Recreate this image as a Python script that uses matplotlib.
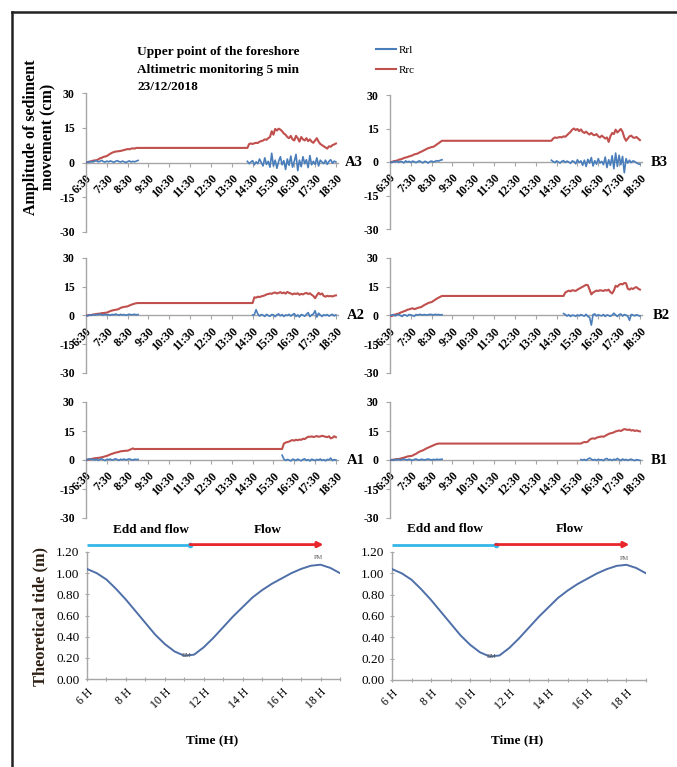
import numpy as np
import matplotlib
matplotlib.use("Agg")
import matplotlib.pyplot as plt
import matplotlib.transforms as mtransforms
from matplotlib.lines import Line2D

plt.rcParams['font.family'] = ['Liberation Serif', 'DejaVu Serif']

# ---------------------------------------------------------------- data
# Altimetric readings every 5 minutes (cm). Morning window 6:30-9:00,
# afternoon window from the listed start time until 18:30.
time_labels = ["6:30", "7:30", "8:30", "9:30", "10:30", "11:30", "12:30",
               "13:30", "14:30", "15:30", "16:30", "17:30", "18:30"]
y_ticks = [-30, -15, 0, 15, 30]

# --- A3
a3_rrc_am = [0.0, 0.2, 0.4, 0.5, 0.8, 0.9,
             1.0, 1.3, 1.8, 2.0, 2.4, 2.6,
             2.8, 3.3, 3.8, 4.2, 4.5, 4.7,
             4.8, 4.9, 5.0, 5.2, 5.4, 5.6,
             5.8, 5.7, 6.0, 6.1, 6.0, 6.3,
             6.3]
a3_rrl_am = [0.0, 0.3, 0.1, 0.5, 0.2, 0.6,
             0.8, 0.3, 0.5, 0.9, 0.4, 0.2,
             0.6, 0.3, 0.7, 0.4, 0.1, 0.5,
             0.8, 0.4, 0.2, 0.6, 0.3, 0.0,
             0.4, 0.7, 0.2, 0.5, 0.3, 0.6,
             0.9]
a3_pm_start = "14:15"
a3_rrc_pm = [6.3, 8.0, 8.2, 8.0, 8.3, 8.5, 8.4, 9.0, 9.2, 9.5, 10.0, 9.8,
             10.5, 11.0, 13.5, 12.0, 14.5, 13.8, 14.6, 14.2, 13.5, 12.5, 12.0, 11.0,
             10.5, 11.5, 10.0, 9.5, 11.5, 10.5, 9.0, 11.0, 10.0, 9.5, 10.5, 9.2,
             10.0, 9.0, 8.5, 9.5, 10.5, 9.0, 8.0, 7.5, 7.0, 6.5, 6.0, 7.0,
             6.8, 7.5, 7.8, 8.2]
a3_rrl_pm = [0.5, -0.5, 0.2, 0.8, -1.0, 0.3, -0.5, 1.5, 0.0, -1.5, 2.0, -0.8,
             0.5, -2.0, 4.0, -1.5, 1.0, -2.5, 0.5, 2.5, -1.0, 0.8, -3.0, 1.5,
             -1.2, 2.8, -2.0, 0.5, 3.5, -3.5, 1.0, -1.8, 2.5, -0.5, 1.2, -2.2,
             3.0, -1.0, 0.5, -0.8, 2.0, -1.5, 1.0, 0.2, -0.5, 1.0, -0.8, 0.5,
             1.2, -0.3, 0.6, 0.2]

# --- A2
a2_rrc_am = [0.0, 0.1, 0.3, 0.2, 0.5, 0.6,
             0.8, 0.9, 1.0, 1.2, 1.3, 1.4,
             1.5, 1.9, 2.3, 2.6, 2.8, 3.0,
             3.1, 3.5, 4.0, 4.3, 4.5, 4.6,
             4.8, 5.2, 5.6, 5.9, 6.2, 6.4,
             6.5]
a2_rrl_am = [0.0, -0.2, 0.3, 0.1, 0.5, 0.2,
             0.6, 0.3, 0.8, 0.4, 0.2, 0.7,
             0.3, 0.5, 0.1, 0.6, 0.3, 0.8,
             0.4, 0.2, 0.6, 0.3, 0.5, 0.1,
             0.4, 0.7, 0.3, 0.5, 0.6, 0.4,
             0.5]
a2_pm_start = "14:30"
a2_rrc_pm = [6.5, 9.5, 9.3, 9.8, 9.6, 10.0, 10.2, 10.5, 11.0, 11.2, 11.5, 11.3,
             11.8, 12.0, 11.5, 11.8, 12.2, 11.6, 12.0, 11.4, 12.3, 11.8, 11.5, 11.0,
             11.5, 11.2, 11.6, 10.8, 11.3, 11.0, 11.5, 11.8, 11.2, 11.6, 10.8, 10.2,
             9.0, 10.5, 11.8, 11.0, 11.5, 10.2, 9.8, 10.3, 10.0, 10.2, 9.9, 10.3,
             10.5]
a2_rrl_pm = [0.2, 0.5, 3.0, 0.8, -0.3, 0.5, 0.2, -0.5, 0.6, 0.0, -0.4, 0.5,
             0.3, -0.6, 0.4, 0.8, -0.2, 0.5, -0.5, 0.3, 0.0, 0.6, -0.3, 0.4,
             1.0, -0.5, 0.3, -0.8, 0.5, 0.2, -0.4, 0.6, 1.5, -0.6, 0.3, 0.8,
             2.5, -0.8, 1.2, 0.3, -0.5, 0.4, 0.0, 0.5, -0.3, 0.2, 0.6, -0.2,
             0.3]

# --- A1
a1_rrc_am = [0.0, 0.2, 0.3, 0.5, 0.7, 0.9,
             1.0, 1.1, 1.2, 1.4, 1.6, 1.9,
             2.1, 2.5, 2.9, 3.2, 3.5, 3.8,
             4.0, 4.2, 4.5, 4.6, 4.7, 4.8,
             4.8, 5.2, 5.6, 6.0, 5.6, 5.7,
             5.7]
a1_rrl_am = [0.0, 0.3, 0.6, 0.2, 0.4, 0.0,
             0.5, -0.2, 0.3, 0.6, 0.1, -0.3,
             0.4, 0.2, 0.5, -0.1, 0.3, 0.6,
             0.2, -0.2, 0.4, 0.1, 0.5, 0.0,
             0.3, 0.6, 0.2, -0.1, 0.4, 0.2,
             0.3]
a1_pm_start = "15:55"
a1_rrc_pm = [5.7, 8.5, 9.0, 9.3, 9.5, 10.0, 10.3, 10.0, 10.5, 10.2, 10.6, 10.4,
             11.0, 10.8, 11.5, 12.0, 12.0, 12.2, 11.9, 12.1, 12.4, 12.0, 12.2, 12.5,
             12.3, 12.0, 11.8, 12.3, 11.2, 11.5, 12.3, 11.8]
a1_rrl_pm = [2.5, 0.5, -0.2, 0.3, 0.0, -0.5, 0.4, 0.2, -0.3, 0.5, 0.0, -0.4,
             0.3, 0.6, -0.2, 0.2, -0.5, 0.4, 0.1, -0.3, 0.3, 0.0, 0.5, -0.2,
             0.2, -0.4, 0.3, 0.1, 1.0, -0.3, 0.2, 0.0]

# --- B3
b3_rrc_am = [0.0, 0.0, 0.3, 0.5, 0.6, 1.0,
             1.2, 1.4, 1.8, 2.0, 2.2, 2.5,
             2.7, 3.0, 3.4, 3.6, 3.8, 4.3,
             4.6, 5.0, 5.4, 5.8, 6.2, 6.4,
             6.7, 6.8, 7.3, 7.9, 8.4, 9.0,
             9.5]
b3_rrl_am = [0.0, -0.3, 0.2, 0.0, 0.4, -0.2,
             0.3, 0.1, -0.4, 0.5, 0.0, 0.3,
             -0.2, 0.4, 0.1, -0.3, 0.2, 0.5,
             0.0, -0.4, 0.3, 0.1, -0.5, 0.2,
             0.4, 0.0, 0.3, 0.6, 0.4, 0.8,
             1.0]
b3_pm_start = "14:15"
b3_rrc_pm = [9.5, 10.5, 11.0, 10.8, 11.0, 11.2, 11.0, 11.5, 11.3, 12.0, 12.8, 13.5,
             14.5, 15.0, 14.3, 14.8, 13.8, 14.6, 13.5, 13.0, 13.6, 12.8, 12.3, 13.0,
             12.2, 12.0, 12.5, 11.5, 11.0, 11.8, 11.2, 10.5, 11.0, 9.0, 11.5, 13.0,
             12.5, 14.5, 13.2, 14.0, 14.8, 13.5, 11.0, 9.5, 10.5, 11.5, 11.8, 11.0,
             10.8, 11.2, 10.5, 9.8]
b3_rrl_pm = [0.8, 0.2, -0.3, 0.5, 0.0, -0.5, 0.3, 0.6, -0.2, 0.4, 0.0, -0.6,
             0.5, 0.2, -0.8, 1.0, -0.3, 0.5, -1.5, 0.8, -2.0, 1.2, -0.5, 2.0,
             -1.8, 0.6, -1.0, 1.5, -0.5, 0.3, -1.2, 2.2, -2.5, 1.0, -1.5, 2.8,
             -3.0, 4.0, -2.0, 3.0, -1.2, 2.5, -4.8, 1.5, -0.5, 0.8, -0.3, 0.5,
             0.2, -0.4, -0.8, -1.0]

# --- B2
b2_rrc_am = [0.0, -0.3, 0.2, 0.5, 0.8, 1.0,
             1.5, 1.8, 2.2, 2.5, 3.0, 3.2,
             3.5, 3.8, 3.3, 3.6, 4.0, 4.2,
             4.4, 5.0, 5.6, 6.0, 6.5, 6.8,
             7.0, 7.6, 8.2, 8.8, 9.3, 9.8,
             10.2]
b2_rrl_am = [0.0, 0.2, 0.5, -0.2, 0.3, 0.6,
             0.0, -0.5, 0.4, 0.2, -0.3, 0.5,
             0.3, 0.0, -0.4, 0.5, 0.2, 0.6,
             0.4, 0.3, 0.5, 0.2, 0.4, 0.6,
             0.5, 0.3, 0.6, 0.4, 0.5, 0.3,
             0.4]
b2_pm_start = "14:50"
b2_rrc_pm = [10.2, 12.0, 12.5, 13.0, 12.6, 13.2, 13.0, 12.8, 13.5, 14.0, 14.5, 15.0,
             15.5, 16.0, 15.8, 13.5, 11.0, 12.0, 12.5, 13.0, 12.8, 13.2, 13.0, 12.8,
             13.3, 13.0, 13.5, 12.2, 11.5, 13.0, 15.5, 15.0, 16.0, 16.5, 16.2, 17.0,
             16.8, 14.0, 13.5, 14.2, 13.8, 14.5, 14.8, 14.0, 13.5]
b2_rrl_pm = [1.0, 0.5, -0.3, 0.4, -0.5, 0.2, 0.0, -0.4, 0.3, -0.2, 0.5, 0.0,
             -0.3, 0.6, -0.5, -1.0, -5.0, 0.5, 0.8, -0.3, 0.4, 0.0, -0.2, 0.5,
             -0.5, 0.3, 0.0, -0.4, 0.2, 1.2, 0.3, -0.5, 0.4, 0.8, -0.3, 0.5,
             0.2, -0.4, -2.5, 0.5, 0.3, -0.2, 0.4, 0.0, -0.3]

# --- B1
b1_rrc_am = [0.0, 0.0, 0.2, 0.3, 0.5, 0.5,
             0.7, 1.0, 1.2, 1.5, 1.8, 2.0,
             2.0, 2.3, 2.8, 3.2, 3.8, 4.3,
             4.7, 5.0, 5.5, 6.0, 6.4, 6.8,
             7.2, 7.6, 8.0, 8.3, 8.5, 8.5,
             8.5]
b1_rrl_am = [0.0, 0.2, -0.2, 0.3, 0.1, 0.4,
             -0.1, 0.3, 0.5, 0.2, 0.0, 0.4,
             0.1, -0.2, 0.3, 0.5, 0.1, -0.1,
             0.4, 0.2, 0.0, 0.3, 0.5, 0.2,
             0.0, 0.3, 0.1, 0.4, 0.2, 0.3,
             0.4]
b1_pm_start = "15:40"
b1_rrc_pm = [8.5, 9.0, 9.3, 9.2, 9.5, 10.5, 11.0, 11.2, 11.0, 11.5, 11.8, 12.0,
             12.2, 12.0, 12.5, 13.0, 13.5, 13.8, 14.0, 14.3, 14.8, 15.0, 15.3, 15.0,
             15.5, 16.0, 15.8, 15.5, 15.8, 15.2, 15.5, 15.0, 15.3, 15.0, 14.8]
b1_rrl_pm = [0.2, 0.0, 0.3, -0.2, 0.5, 1.0, 0.4, 0.0, 0.3, -0.2, 0.4, 0.0,
             0.2, -0.3, 0.5, 0.8, 0.0, 0.3, -0.2, 0.4, 0.1, 0.8, 0.2, -0.3,
             0.5, 0.0, 0.3, -0.2, 0.2, 0.4, 0.0, -0.3, 0.2, 0.0, -0.2]

# Theoretical tide (m), half-hourly from 6 H to 19 H
tide_hours = [6.0, 6.5, 7.0, 7.5, 8.0, 8.5, 9.0, 9.5, 10.0, 10.5, 11.0, 11.5, 12.0,
              12.5, 13.0, 13.5, 14.0, 14.5, 15.0, 15.5, 16.0, 16.5, 17.0, 17.5,
              18.0, 18.5, 19.0]
tide_m = [1.04, 1.00, 0.94, 0.85, 0.75, 0.64, 0.53, 0.42, 0.33, 0.26, 0.22, 0.23,
          0.30, 0.39, 0.49, 0.59, 0.68, 0.77, 0.84, 0.90, 0.95, 1.00, 1.04, 1.07,
          1.08, 1.05, 1.00]
tide_low = (11.1, 0.22, "BM")
tide_high = (17.9, 1.08, "PM")
tide_hour_ticks = [6, 8, 10, 12, 14, 16, 18]
tide_y_ticks = [0.0, 0.2, 0.4, 0.6, 0.8, 1.0, 1.2]
ebb_flow_phase = (6.0, 11.3)
flow_phase = (11.3, 18.15)

# ---------------------------------------------------------------- styling
W, H = 677, 767
RED = "#c0504d"
BLUE = "#4a7ebb"
GREY = "#a6a6a6"

fig = plt.figure(figsize=(W / 100, H / 100), dpi=100)


def axes_px(x0, x1, ytop, ybot):
    return fig.add_axes([x0 / W, 1 - ybot / H, (x1 - x0) / W, (ybot - ytop) / H])


def hm(s):
    h, m = s.split(":")
    return int(h) + int(m) / 60.0


def sediment_panel(box, rrc_am, rrl_am, pm_start, rrc_pm, rrl_pm, name, name_x):
    ax = axes_px(*box)
    # the horizontal axis crosses at zero; position it before styling the ticks
    for s in ("top", "right"):
        ax.spines[s].set_visible(False)
    ax.spines["bottom"].set_position(("data", 0))
    t_am = hm("6:30") + np.arange(len(rrc_am)) * 5 / 60.0
    t_pm = hm(pm_start) + np.arange(len(rrc_pm)) * 5 / 60.0
    ax.plot(np.concatenate([t_am, t_pm]), np.concatenate([rrc_am, rrc_pm]),
            color=RED, lw=1.5, solid_joinstyle="round", zorder=3)
    ax.plot(np.concatenate([t_am, [np.nan], t_pm]),
            np.concatenate([rrl_am, [np.nan], rrl_pm]),
            color=BLUE, lw=1.2, solid_joinstyle="round", zorder=4)
    ax.set_xlim(6.5, 18.6)
    ax.set_ylim(-30, 30)
    ax.set_yticks(y_ticks)
    ax.set_yticklabels([str(v) for v in y_ticks], fontsize=8.5, fontweight="bold")
    ax.set_xticks([hm(s) for s in time_labels])
    ax.set_xticklabels(time_labels, rotation=45, ha="right", va="top",
                       rotation_mode="anchor", fontsize=8.5, fontweight="bold")
    for s in ("left", "bottom"):
        ax.spines[s].set_color(GREY)
        ax.spines[s].set_linewidth(1.0)
    ax.tick_params(axis="both", colors=GREY, length=3, width=0.8, labelcolor="black")
    ax.tick_params(axis="y", pad=5)
    ax.tick_params(axis="x", pad=4)
    ax.set_facecolor("none")
    tr = mtransforms.blended_transform_factory(fig.transFigure, ax.transData)
    ax.text(name_x / W, 0, name, transform=tr, ha="center", va="center",
            fontsize=10.5, fontweight="bold", clip_on=False)
    return ax


sediment_panel((86, 338, 93, 232), a3_rrc_am, a3_rrl_am, a3_pm_start, a3_rrc_pm, a3_rrl_pm, "A3", 354)
sediment_panel((86, 338, 258, 373), a2_rrc_am, a2_rrl_am, a2_pm_start, a2_rrc_pm, a2_rrl_pm, "A2", 356)
sediment_panel((86, 338, 402, 518), a1_rrc_am, a1_rrl_am, a1_pm_start, a1_rrc_pm, a1_rrl_pm, "A1", 356)
sediment_panel((390, 642, 95, 229), b3_rrc_am, b3_rrl_am, b3_pm_start, b3_rrc_pm, b3_rrl_pm, "B3", 659)
sediment_panel((390, 642, 258, 373), b2_rrc_am, b2_rrl_am, b2_pm_start, b2_rrc_pm, b2_rrl_pm, "B2", 661)
sediment_panel((390, 642, 402, 518), b1_rrc_am, b1_rrl_am, b1_pm_start, b1_rrc_pm, b1_rrl_pm, "B1", 659)


def tide_panel(box, ebb_x, flow_x, text_y, time_x):
    ax = axes_px(*box)
    ax.plot(tide_hours, tide_m, color="#4f6fa8", lw=1.4, zorder=3)
    ax.set_xlim(6, 19)
    ax.set_ylim(0, 1.2)
    ax.set_yticks(tide_y_ticks)
    ax.set_yticklabels([f"{v:.2f}" for v in tide_y_ticks], fontsize=9.5)
    ax.set_xticks(tide_hour_ticks)
    ax.set_xticks(np.arange(6, 20, 1), minor=True)
    ax.set_xticklabels([f"{h} H" for h in tide_hour_ticks], rotation=45, ha="right",
                       va="top", rotation_mode="anchor", fontsize=8.5)
    for s in ("top", "right"):
        ax.spines[s].set_visible(False)
    for s in ("left", "bottom"):
        ax.spines[s].set_color(GREY)
        ax.spines[s].set_linewidth(1.0)
    ax.tick_params(axis="both", which="both", colors=GREY, length=3, width=0.8,
                   labelcolor="black", direction="inout")
    ax.tick_params(axis="y", pad=4)
    ax.set_facecolor("none")
    # tide extremes
    ax.text(tide_low[0], tide_low[1], tide_low[2], fontsize=4.5, color="#555555",
            ha="center", va="center", zorder=4)
    ax.text(tide_high[0], tide_high[1] + 0.04, tide_high[2], fontsize=4.5,
            color="#555555", ha="center", va="bottom", zorder=4)
    # tidal phases
    yb = 1.27
    ax.plot(ebb_flow_phase, [yb, yb], color="#35b6e8", lw=2.0, clip_on=False,
            solid_capstyle="butt")
    ax.annotate("", xy=(flow_phase[1], yb), xytext=(flow_phase[0], yb),
                arrowprops=dict(arrowstyle="-|>", color="#e8262b", lw=2.0,
                                mutation_scale=8, shrinkA=0, shrinkB=0),
                annotation_clip=False)
    ax.plot([ebb_flow_phase[1]], [yb], "o", color="#35b6e8", ms=3, clip_on=False)
    ax.text(ebb_x, text_y, "Edd and flow", fontsize=9.5, fontweight="bold",
            ha="center", va="center", clip_on=False)
    ax.text(flow_x, text_y, "Flow", fontsize=9.5, fontweight="bold",
            ha="center", va="center", clip_on=False)
    fig.text(time_x / W, 1 - 740 / H, "Time (H)", fontsize=9.5, fontweight="bold",
             ha="center", va="center")
    return ax


tide_panel((87, 340, 552, 679), 9.3, 15.3, 1.41, 212)
tide_panel((392, 646, 552, 680), 8.7, 15.1, 1.42, 517)

# ---------------------------------------------------------------- titles
fig.text(137 / W, 1 - 52 / H, "Upper point of the foreshore", fontsize=9.6,
         fontweight="bold", ha="left", va="center")
fig.text(137 / W, 1 - 69.5 / H, "Altimetric monitoring 5 min", fontsize=9.6,
         fontweight="bold", ha="left", va="center")
fig.text(137 / W, 1 - 87 / H, "23/12/2018", fontsize=9.6,
         fontweight="bold", ha="left", va="center")

fig.text(40 / W, 1 - 137 / H, "Amplitude of sediment\nmovement (cm)", rotation=90,
         fontsize=11.5, fontweight="bold", ha="center", va="center",
         multialignment="center", linespacing=1.1)
fig.text(40 / W, 1 - 617 / H, "Theoretical tide (m)", rotation=90, fontsize=11.8,
         fontweight="bold", ha="center", va="center", color="#2e2013")

legend_handles = [Line2D([], [], color=BLUE, lw=1.5), Line2D([], [], color=RED, lw=1.5)]
fig.legend(legend_handles, ["Rrl", "Rrc"], loc="upper left",
           bbox_to_anchor=(368 / W, 1 - 37 / H), frameon=False, fontsize=8,
           handlelength=1.8, handletextpad=0.3, labelspacing=0.95, borderpad=0.2)

# frame lines along the left and top edges
fig.add_artist(Line2D([12 / W, 12 / W], [0, 1 - 12 / H], color="#222222", lw=1.8))
fig.add_artist(Line2D([12 / W, 1], [1 - 12 / H, 1 - 12 / H], color="#222222", lw=1.8))

fig.savefig("out.png", dpi=100, facecolor="white")
